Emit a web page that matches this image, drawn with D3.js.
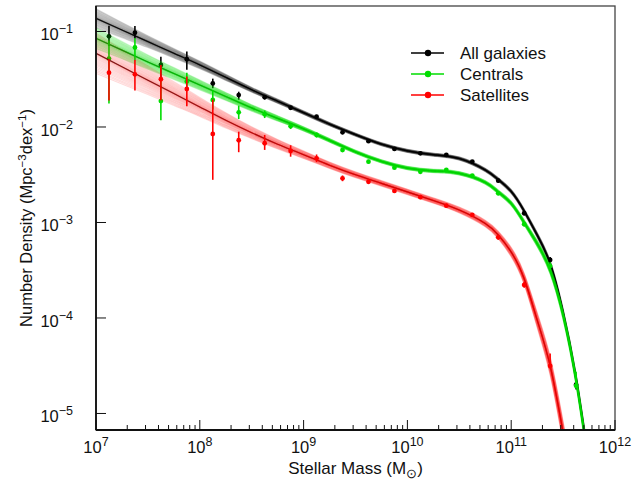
<!DOCTYPE html>
<html lang="en">
<head>
<meta charset="UTF-8">
<title>Stellar Mass Function</title>
<script src="https://d3js.org/d3.v7.min.js"></script>
<style>
  body { margin: 0; background: #fff; }
  text { font-family: "Liberation Sans", Arial, Helvetica, sans-serif; fill: #111; }
</style>
</head>
<body>
<svg id="chart" width="644" height="485"></svg>
<script>
// measured number densities, bin centres in log10(M*/Msun)
const binLogM = [7.125, 7.375, 7.625, 7.875, 8.125, 8.375, 8.625, 8.875, 9.125, 9.375,
                 9.625, 9.875, 10.125, 10.375, 10.625, 10.875, 11.125, 11.375, 11.625];

const allPhi = [0.089, 0.097, 0.0446, 0.0512, 0.0286, 0.0216, 0.0205, 0.0159, 0.0128, 0.0088,
                0.0071, 0.00589, 0.0053, 0.0051, 0.00434, 0.00274, 0.00125, 0.000405, 0.00002];
const allErrHi = [0.11, 0.07, 0.087, 0.08, 0.05, 0.035, 0.025, 0.02, 0.02, 0.02,
                  0.015, 0.015, 0.015, 0.015, 0.015, 0.02, 0.02, 0.03, 0.1];
const allErrLo = [0.1, 0.06, 0.157, 0.11, 0.05, 0.05, 0.025, 0.02, 0.02, 0.02,
                  0.015, 0.015, 0.015, 0.015, 0.015, 0.02, 0.02, 0.03, 0.05];

const cenPhi = [0.052, 0.068, 0.0187, 0.030, 0.0192, 0.01425, 0.0136, 0.0102, 0.00824, 0.00574,
                0.00433, 0.00375, 0.0034, 0.00355, 0.0031, 0.00202, 0.00096, 0.00035, 0.0000195];
const cenErrHi = [0.19, 0.097, 0.22, 0.09, 0.1, 0.07, 0.04, 0.03, 0.025, 0.02,
                  0.02, 0.015, 0.015, 0.015, 0.015, 0.02, 0.025, 0.04, 0.147];
const cenErrLo = [0.47, 0.133, 0.2, 0.09, 0.1, 0.07, 0.04, 0.03, 0.025, 0.02,
                  0.02, 0.015, 0.015, 0.015, 0.015, 0.02, 0.025, 0.04, 0.025];

const satPhi = [0.037, 0.0356, 0.0316, 0.025, 0.00845, 0.00726, 0.00676, 0.00561, 0.0047, 0.0029,
                0.00267, 0.00214, 0.00184, 0.0015, 0.0012, 0.0007, 0.000222, 0.0000315, null];
const satErrHi = [0.14, 0.15, 0.15, 0.13, 0.36, 0.09, 0.087, 0.06, 0.04, 0.03,
                  0.02, 0.02, 0.02, 0.02, 0.02, 0.025, 0.03, 0.13, 0];
const satErrLo = [0.29, 0.17, 0.22, 0.18, 0.48, 0.125, 0.07, 0.06, 0.04, 0.03,
                  0.02, 0.02, 0.02, 0.02, 0.02, 0.025, 0.03, 0.03, 0];

// fitted double-Schechter curves, log10(phi), and posterior scatter (dex)
const fitLogM = [7.0, 7.25, 7.5, 7.75, 8.0, 8.25, 8.5, 8.75, 9.0, 9.25, 9.5, 9.75,
                 10.0, 10.25, 10.5, 10.75, 10.875, 11.0, 11.125, 11.25, 11.375, 11.5, 11.625, 11.75];
const allFit = [-0.862, -0.985, -1.106, -1.228, -1.35, -1.48, -1.61, -1.73, -1.85, -1.97, -2.08, -2.18,
                -2.25, -2.29, -2.33, -2.45, -2.55, -2.675, -2.88, -3.13, -3.43, -3.94, -4.63, -5.53];
const cenFit = [-1.071, -1.195, -1.32, -1.44, -1.56, -1.68, -1.80, -1.91, -2.02, -2.14, -2.26, -2.36,
                -2.43, -2.46, -2.485, -2.58, -2.68, -2.80, -3.0, -3.22, -3.50, -3.97, -4.65, -5.55];
const satFit = [-1.229, -1.37, -1.51, -1.65, -1.79, -1.93, -2.06, -2.18, -2.29, -2.40, -2.50, -2.59,
                -2.68, -2.77, -2.87, -3.01, -3.13, -3.31, -3.59, -4.02, -4.50, -5.2, -6.0, -6.9];
const allSpread = [0.1, 0.08, 0.062, 0.05, 0.04, 0.032, 0.026, 0.022, 0.019, 0.018, 0.017, 0.017,
                   0.017, 0.017, 0.017, 0.018, 0.019, 0.021, 0.023, 0.027, 0.032, 0.04, 0.05, 0.06];
const cenSpread = [0.11, 0.09, 0.075, 0.062, 0.052, 0.042, 0.034, 0.028, 0.023, 0.02, 0.018, 0.018,
                   0.018, 0.018, 0.018, 0.019, 0.021, 0.023, 0.027, 0.033, 0.04, 0.05, 0.06, 0.07];
const satSpread = [0.21, 0.18, 0.15, 0.125, 0.1, 0.08, 0.062, 0.05, 0.04, 0.034, 0.031, 0.029,
                   0.029, 0.029, 0.031, 0.035, 0.04, 0.05, 0.06, 0.08, 0.1, 0.12, 0.14, 0.16];

const legendLabels = ["All galaxies", "Centrals", "Satellites"];
const xTickExp = [7, 8, 9, 10, 11, 12];
const yTickExp = [-1, -2, -3, -4, -5];

const series = [
  {name: legendLabels[0], color: "#000000", phi: allPhi, hi: allErrHi, lo: allErrLo, fit: allFit, spread: allSpread, op: 0.14},
  {name: legendLabels[1], color: "#00dd00", phi: cenPhi, hi: cenErrHi, lo: cenErrLo, fit: cenFit, spread: cenSpread, op: 0.19},
  {name: legendLabels[2], color: "#ff0000", phi: satPhi, hi: satErrHi, lo: satErrLo, fit: satFit, spread: satSpread, op: 0.15}
];

const svg = d3.select("#chart");
const pLeft = 96, pRight = 615, pTop = 6, pBottom = 430;

const x = d3.scaleLog().domain([1e7, 1e12]).range([pLeft, pRight]);
const y = d3.scaleLog().domain([Math.pow(10, -5.173), Math.pow(10, -0.733)]).range([pBottom, pTop]);

svg.append("defs").append("clipPath").attr("id", "plotclip")
  .append("rect").attr("x", pLeft).attr("y", pTop).attr("width", pRight - pLeft).attr("height", pBottom - pTop);

const plot = svg.append("g").attr("clip-path", "url(#plotclip)");

// posterior fan: fixed fractions of the scatter, denser towards the middle
const nFan = 36;
const fanFrac = d3.range(nFan).map(k => {
  const u = -1 + 2 * k / (nFan - 1);
  return Math.sign(u) * Math.pow(Math.abs(u), 1.5);
});

series.forEach(s => {
  const g = plot.append("g");

  const pts = fitLogM.map((m, i) => ({m: m, v: s.fit[i], sp: s.spread[i]}));
  const curve = d3.line().curve(d3.curveNatural).x(d => x(Math.pow(10, d.m)));

  // best fit underneath
  g.append("path")
    .attr("d", curve.y(d => y(Math.pow(10, d.v)))(pts))
    .attr("fill", "none")
    .attr("stroke", "#000")
    .attr("stroke-opacity", 0.85)
    .attr("stroke-width", 1.2);

  fanFrac.forEach(f => {
    g.append("path")
      .attr("d", curve.y(d => y(Math.pow(10, d.v + f * d.sp)))(pts))
      .attr("fill", "none")
      .attr("stroke", s.color)
      .attr("stroke-opacity", s.op)
      .attr("stroke-width", 1.1);
  });

  const data = binLogM.map((m, i) => ({m: m, v: s.phi[i], hi: s.hi[i], lo: s.lo[i]}))
    .filter(d => d.v != null);

  g.selectAll(".err").data(data).join("line")
    .attr("x1", d => x(Math.pow(10, d.m)))
    .attr("x2", d => x(Math.pow(10, d.m)))
    .attr("y1", d => y(d.v * Math.pow(10, d.hi)))
    .attr("y2", d => y(d.v / Math.pow(10, d.lo)))
    .attr("stroke", s.color)
    .attr("stroke-width", 1.6);

  g.selectAll(".pt").data(data).join("circle")
    .attr("cx", d => x(Math.pow(10, d.m)))
    .attr("cy", d => y(d.v))
    .attr("r", 2.4)
    .attr("fill", s.color);
});

// frame
svg.append("rect")
  .attr("x", pLeft).attr("y", pTop)
  .attr("width", pRight - pLeft).attr("height", pBottom - pTop)
  .attr("fill", "none").attr("stroke", "#444").attr("stroke-width", 1.3);
svg.append("line").attr("x1", pLeft).attr("x2", pLeft).attr("y1", pTop).attr("y2", pBottom)
  .attr("stroke", "#111").attr("stroke-width", 1.8);
svg.append("line").attr("x1", pLeft).attr("x2", pRight).attr("y1", pBottom).attr("y2", pBottom)
  .attr("stroke", "#111").attr("stroke-width", 1.8);

// x ticks (major + minor), pointing inwards
const xticks = x.ticks(50);
svg.append("g").selectAll("line").data(xticks).join("line")
  .attr("x1", d => x(d)).attr("x2", d => x(d))
  .attr("y1", pBottom)
  .attr("y2", d => Math.abs(Math.log10(d) - Math.round(Math.log10(d))) < 1e-6 ? pBottom - 10 : pBottom - 5)
  .attr("stroke", "#111").attr("stroke-width", 1);

// y ticks, majors only
svg.append("g").selectAll("line").data(yTickExp).join("line")
  .attr("x1", pLeft).attr("x2", pLeft + 10)
  .attr("y1", d => y(Math.pow(10, d))).attr("y2", d => y(Math.pow(10, d)))
  .attr("stroke", "#111").attr("stroke-width", 1);

const xl = svg.append("g").selectAll("text").data(xTickExp).join("text")
  .attr("x", d => x(Math.pow(10, d)))
  .attr("y", 453)
  .attr("text-anchor", "middle")
  .style("font-size", "16.5px");
xl.append("tspan").text("10");
xl.append("tspan").attr("dy", -7).style("font-size", "12.5px").text(d => d);

const yl = svg.append("g").selectAll("text").data(yTickExp).join("text")
  .attr("x", 73)
  .attr("y", d => y(Math.pow(10, d)) + 9)
  .attr("text-anchor", "end")
  .style("font-size", "16.5px");
yl.append("tspan").text("10");
yl.append("tspan").attr("dy", -7).style("font-size", "12.5px").text(d => "\u2212" + Math.abs(d));

// axis titles
const xt = svg.append("text")
  .attr("x", (pLeft + pRight) / 2).attr("y", 474)
  .attr("text-anchor", "middle").style("font-size", "17px");
xt.append("tspan").text("Stellar Mass (M");
xt.append("tspan").attr("dy", 4).style("font-size", "12.5px").text("\u2299");
xt.append("tspan").attr("dy", -4).text(")");

const yt = svg.append("text")
  .attr("transform", `translate(32,${(pTop + pBottom) / 2}) rotate(-90)`)
  .attr("text-anchor", "middle").style("font-size", "16.5px");
yt.append("tspan").text("Number Density (Mpc");
yt.append("tspan").attr("dy", -6).style("font-size", "11.5px").text("\u22123");
yt.append("tspan").attr("dy", 6).text("dex");
yt.append("tspan").attr("dy", -6).style("font-size", "11.5px").text("\u22121");
yt.append("tspan").attr("dy", 6).text(")");

// legend
const lg = svg.append("g").selectAll("g").data(series).join("g")
  .attr("transform", (d, i) => `translate(0,${53 + i * 21})`);
lg.append("line").attr("x1", 411).attr("x2", 444).attr("y1", 0).attr("y2", 0)
  .attr("stroke", d => d.color).attr("stroke-width", 1.5);
lg.append("circle").attr("cx", 428).attr("cy", 0).attr("r", 3.2).attr("fill", d => d.color);
lg.append("text").attr("x", 460).attr("y", 6).style("font-size", "17px").text(d => d.name);
</script>
</body>
</html>
